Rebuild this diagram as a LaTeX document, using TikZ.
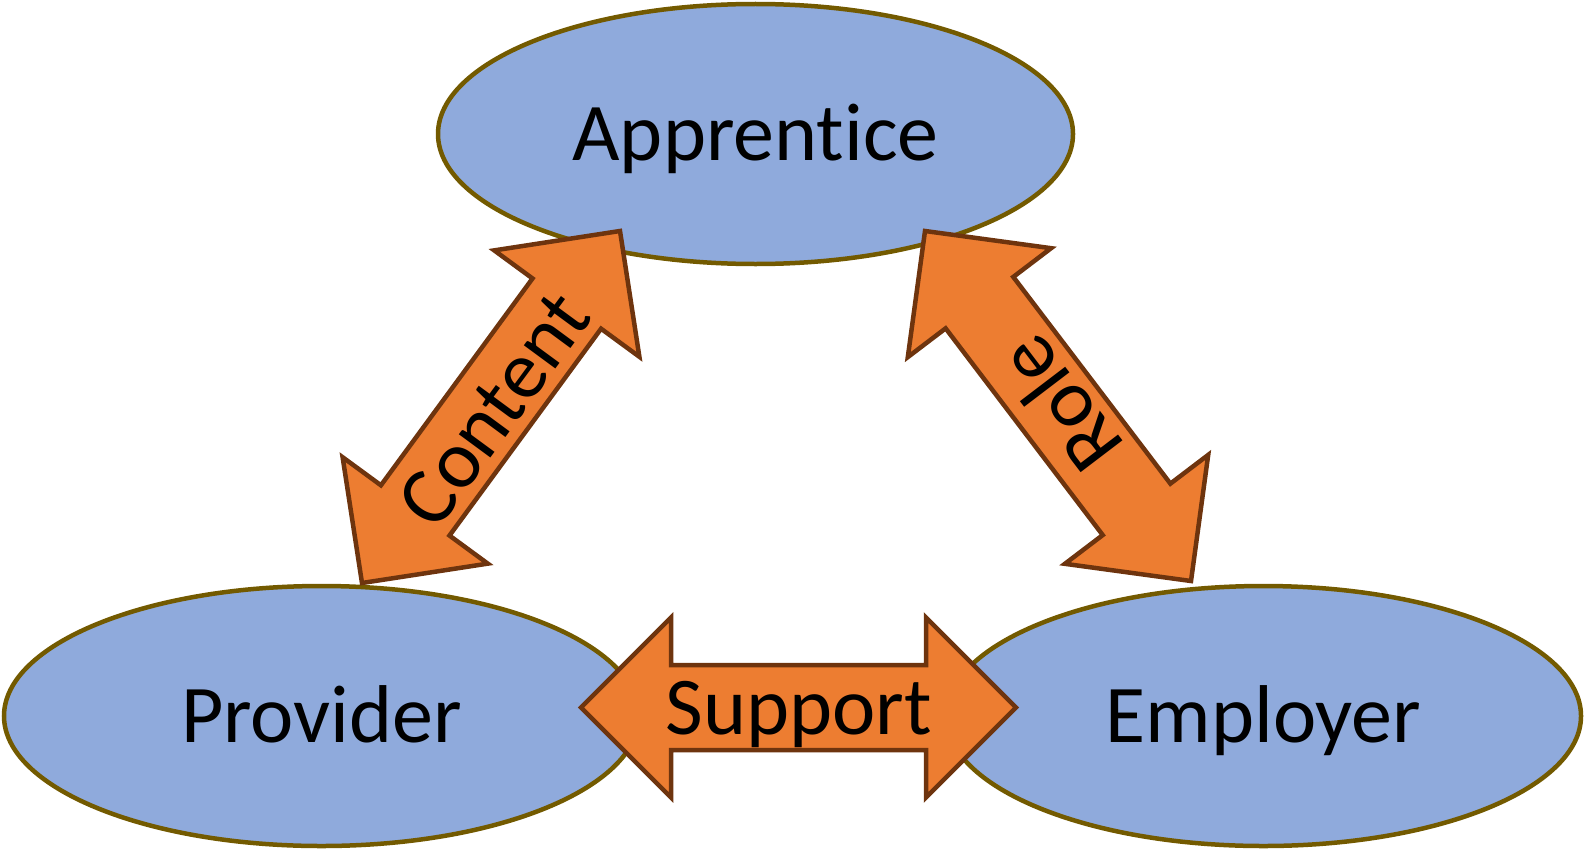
\documentclass[tikz,border=0pt]{standalone}
\usepackage{fontspec}
\setmainfont{Carlito}[Ligatures={NoCommon,NoRare,NoContextual}]
\usetikzlibrary{shapes.geometric,calc}
\definecolor{ellfill}{HTML}{8FAADC}
\definecolor{elldraw}{HTML}{735A00}
\definecolor{arrfill}{HTML}{ED7D31}
\definecolor{arrdraw}{HTML}{6E340E}
\newcommand\blockarrow[2]{%
  \coordinate (#1-h) at ($(#1)!90pt!(#2)$);
  \coordinate (#2-h) at ($(#2)!90pt!(#1)$);
  \draw[barrow] (#1)
    -- ($(#1-h)!90pt!90:(#2)$)
    -- ($(#1-h)!42.5pt!90:(#2)$)
    -- ($(#2-h)!42.5pt!-90:(#1)$)
    -- ($(#2-h)!90pt!-90:(#1)$)
    -- (#2)
    -- ($(#2-h)!90pt!90:(#1)$)
    -- ($(#2-h)!42.5pt!90:(#1)$)
    -- ($(#1-h)!42.5pt!-90:(#2)$)
    -- ($(#1-h)!90pt!-90:(#2)$)
    -- cycle;}
\begin{document}
\begin{tikzpicture}[x=1pt,y=-1pt,
  ell/.style={ellipse, draw=elldraw, fill=ellfill, line width=4.5pt,
    minimum width=635pt, minimum height=260pt, inner sep=0pt,
    font=\fontsize{82}{98}\selectfont, text height=52pt, text depth=0pt},
  barrow/.style={draw=arrdraw, fill=arrfill, line width=4.5pt, line join=miter},
  lbl/.style={font=\fontsize{82}{98}\selectfont, text height=52pt, text depth=0pt, inner sep=0pt}]
\useasboundingbox (0,0) rectangle (1586,851);
\node[ell] (app) at (755.5,134) {Apprentice};
\node[ell] (prov) at (321.5,716) {Provider};
\node[ell] (emp) at (1263.5,716) {Employer};
% arrow end points
\coordinate (c1) at (362,583);
\coordinate (c2) at (620,231);
\coordinate (r1) at (925,231);
\coordinate (r2) at (1191,581);
\coordinate (s1) at (581,707.5);
\coordinate (s2) at (1016,707.5);
\blockarrow{c1}{c2}
\blockarrow{r1}{r2}
\blockarrow{s1}{s2}
\node[lbl, rotate=53.65, yshift=-4pt] (contentlbl) at ($(c1)!0.5!(c2)$) {Content};
\node[lbl, rotate=127.3, yshift=-4pt] (rolelbl) at ($(r1)!0.5!(r2)$) {Role};
\node[lbl, yshift=-1pt] (supportlbl) at ($(s1)!0.5!(s2)$) {Support};
\end{tikzpicture}
\end{document}
